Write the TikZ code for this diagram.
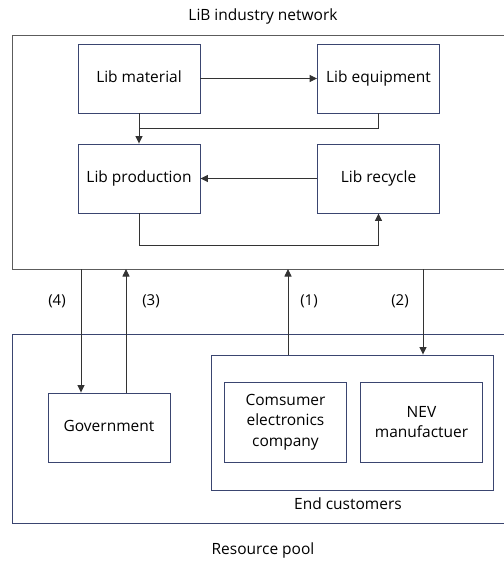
\documentclass[tikz,border=0pt]{standalone}
\usepackage{fontspec}
\setmainfont{Open Sans}
\usetikzlibrary{arrows.meta}
\definecolor{boxnavy}{HTML}{3A4570}
\definecolor{linegray}{HTML}{333333}
\tikzset{
    unit-box/.style = {draw=boxnavy, line width=0.9pt, rectangle, minimum width=122pt, minimum height=69pt, align=center, inner sep=2pt},
    flow-arrow/.style = {draw=linegray, line width=0.9pt, -{Triangle[length=7.5pt,width=7pt]}},
    flow-line/.style = {draw=linegray, line width=0.9pt},
    step-label/.style = {font=\fontsize{15}{18}\selectfont},
}

\begin{document}
\begin{tikzpicture}[x=1pt, y=-1pt, font=\fontsize{15.5}{20.5}\selectfont]
\useasboundingbox (0,0) rectangle (504,563);
% outer frames (run past the right edge)
\draw[draw=linegray!80, line width=0.9pt] (12,35) rectangle (530,269);
\draw[draw=boxnavy, line width=0.9pt] (12,334) rectangle (530,523);
\node (network) at (263,16) {LiB industry network};
\node (pool) at (263,550) {Resource pool};

% LiB industry network
\node [unit-box, text height=11pt, text depth=3pt] (material) at (139,78.5) {Lib material};
\node [unit-box, text height=11pt, text depth=3pt] (equipment) at (378.5,78.5) {Lib equipment};
\node [unit-box, text height=11pt, text depth=3pt] (production) at (139,178.5) {Lib production};
\node [unit-box, text height=11pt, text depth=3pt] (recycle) at (378.5,178.5) {Lib recycle};
\coordinate (join) at (139,128);

\draw [flow-arrow] (material) -- (equipment);
\draw [flow-arrow] (material) -- (production);
\draw [flow-line] (equipment.south) |- (join);
\draw [flow-arrow] (recycle) -- (production);
\draw [flow-arrow] (production.south) -- ++(0,32) -| (recycle.south);

% resource pool
\node [unit-box, text height=11pt, text depth=3pt] (government) at (109,427.5) {Government};
\node [draw=boxnavy, line width=0.9pt, rectangle, minimum width=282pt, minimum height=135pt] (customers) at (352,422.5) {};
\node (customers-label) at (348,504) {End customers};
\node [unit-box, minimum height=80pt, text width=118pt, inner sep=2pt] (consumer) at (285.5,422) {Comsumer\\ electronics\\ company};
\node [unit-box, minimum height=80pt, text width=118pt, inner sep=2pt] (nev) at (421.5,422) {NEV\\ manufactuer};

% exchanges between the two
\coordinate (out4) at (81,269);
\coordinate (in3) at (126,269);
\coordinate (in1) at (288,269);
\coordinate (out2) at (423,269);
\draw [flow-arrow] (out4) -- (out4 |- government.north);
\draw [flow-arrow] (in3 |- government.north) -- (in3);
\draw [flow-arrow] (in1 |- customers.north) -- (in1);
\draw [flow-arrow] (out2) -- (out2 |- customers.north);
\node [step-label] (l4) at (57,301) {(4)};
\node [step-label] (l3) at (151,301) {(3)};
\node [step-label] (l1) at (309,301) {(1)};
\node [step-label] (l2) at (400,301) {(2)};
\end{tikzpicture}
\end{document}
